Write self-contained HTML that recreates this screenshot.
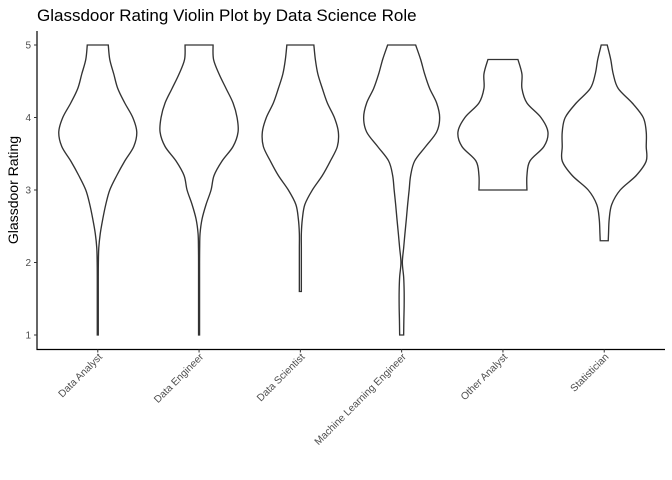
<!DOCTYPE html>
<html><head><meta charset="utf-8"><style>
html,body{margin:0;padding:0;background:#fff;}
svg{display:block;font-family:"Liberation Sans",Arial,sans-serif;}
</style></head><body>
<svg id="chart" width="672" height="480" viewBox="0 0 672 480">
<text x="37" y="21" font-size="17" fill="#000">Glassdoor Rating Violin Plot by Data Science Role</text>
<text transform="translate(18,190) rotate(-90)" text-anchor="middle" font-size="14" fill="#000">Glassdoor Rating</text>
<g id="violins"></g>
<g id="axes"></g>
</svg>
<script>
const categories = ["Data Analyst","Data Engineer","Data Scientist","Machine Learning Engineer","Other Analyst","Statistician"];
const yTicks = [1,2,3,4,5];
const rangeMax = [5,5,5,5,4.8,5];
const rangeMin = [1,1,1.6,1,3.0,2.3];
// half-width densities sampled from rangeMax downward in 0.2 steps, last value at rangeMin
const dens0 = [10.5,12,16,20,27,35,39,36,27,19,12,8,5,2.5,1,0.6,0.5,0.5,0.5,0.5,0.5];
const dens1 = [14,14.5,20,27,34,38,39,34,23,15,12,7,3,1,0.6,0.5,0.5,0.5,0.5,0.5,0.5];
const dens2 = [13.5,15,17.5,22,27,34,38,37,30,22,12,4.5,2,1,1,1,1,1];
const dens3 = [14,19,23,28,35,38,35,24,13,9,7.5,6,4.7,3.3,2,0.7,2,2.5,2.5,2.2,2];
const dens4 = [15,19,19,24,38,45,41,27,24,24];
const dens5 = [3,6.5,9,14,28,39,42,42,42,32,16,7.5,5,4.3,4];
const densities = [dens0,dens1,dens2,dens3,dens4,dens5];

const NS="http://www.w3.org/2000/svg";
const L=37,R=665,T=31,B=349.5;
const yScale=v=>45+(5-v)*72.5;
const step=(R-L)/(categories.length-1+1.2);
const xScale=i=>L+step*(0.6+i);
const wScale=d=>d;

function mk(tag,attrs,parent){const e=document.createElementNS(NS,tag);for(const k in attrs)e.setAttribute(k,attrs[k]);parent.appendChild(e);return e;}
function smooth(pts){let d="M"+pts[0][0]+","+pts[0][1];for(let i=0;i<pts.length-1;i++){const p0=pts[Math.max(0,i-1)],p1=pts[i],p2=pts[i+1],p3=pts[Math.min(pts.length-1,i+2)];const c1=[p1[0]+(p2[0]-p0[0])/6,p1[1]+(p2[1]-p0[1])/6];const c2=[p2[0]-(p3[0]-p1[0])/6,p2[1]-(p3[1]-p1[1])/6];d+=" C"+c1[0].toFixed(2)+","+c1[1].toFixed(2)+" "+c2[0].toFixed(2)+","+c2[1].toFixed(2)+" "+p2[0].toFixed(2)+","+p2[1].toFixed(2);}return d;}

const vg=document.getElementById("violins");
densities.forEach((ds,i)=>{
  const cx=xScale(i);
  const right=[],left=[];
  ds.forEach((d,j)=>{let v=rangeMax[i]-0.2*j;if(j===ds.length-1||v<rangeMin[i])v=rangeMin[i];const y=yScale(v);right.push([cx+wScale(d),y]);left.push([cx-wScale(d),y]);});
  let path=smooth(right);
  const lr=left.slice().reverse();
  path+=" L"+lr[0][0]+","+lr[0][1]+smooth(lr).replace(/^M[^ C]+/,"")+" Z";
  const p=mk("path",{d:path,fill:"#fff",stroke:"#333","stroke-width":"1.35"},vg);
  
  
});

const ag=document.getElementById("axes");
const yl=mk("line",{x1:L,y1:T,x2:L,y2:B+0.5,stroke:"#000","stroke-width":"1.2"},ag);


const xl=mk("line",{x1:L-0.5,y1:B,x2:R,y2:B,stroke:"#000","stroke-width":"1.2"},ag);


yTicks.forEach(t=>{
  const y=yScale(t);
  const tk=mk("line",{x1:L-3,y1:y,x2:L,y2:y,stroke:"#333","stroke-width":"1"},ag);
  
  
  const tx=mk("text",{x:L-6,y:y+3.5,"text-anchor":"end","font-size":"10","fill":"#4d4d4d"},ag);
  tx.textContent=t;
  
  
});
categories.forEach((c,i)=>{
  const x=xScale(i);
  const tk=mk("line",{x1:x,y1:B,x2:x,y2:B+3,stroke:"#333","stroke-width":"1"},ag);
  
  
  const tx=mk("text",{transform:"translate("+(x+5)+","+(B+8)+") rotate(-45)","text-anchor":"end","font-size":"10.2","fill":"#4d4d4d"},ag);
  tx.textContent=c;
  
  
});
</script>
</body></html>
